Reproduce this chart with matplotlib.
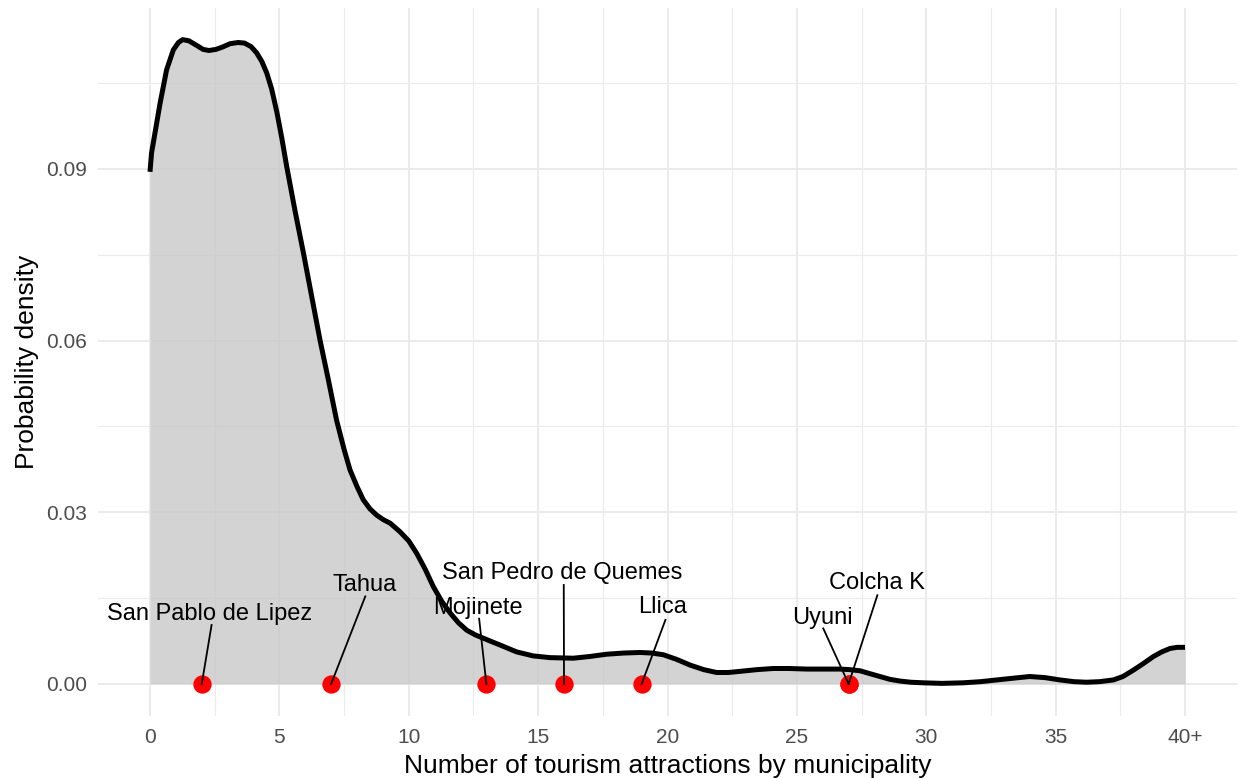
import matplotlib
matplotlib.use("Agg")
import matplotlib.pyplot as plt
from matplotlib.ticker import MultipleLocator, FixedLocator

plt.rcParams['font.family'] = ['Liberation Sans', 'DejaVu Sans']

# Density curve
dens_x = [0, 0.06, 0.39, 0.64, 0.9, 1.1, 1.26, 1.5, 1.8, 2.05, 2.28, 2.55, 2.8, 3.1, 3.41, 3.65,
          3.9, 4.12, 4.32, 4.51, 4.7, 4.9, 5.09, 5.28, 5.6, 5.93, 6.25, 6.57, 6.9,
          7.21, 7.5, 7.73, 8.0, 8.24, 8.5, 8.76, 9.02, 9.28, 9.66, 10.0, 10.31, 10.63, 10.95, 11.28,
          11.6, 11.92, 12.24, 12.56, 12.88, 13.2, 13.53, 14.17, 14.81, 15.46, 16.36, 17.0, 17.65,
          18.3, 18.94, 19.4, 19.84, 20.35, 20.87, 21.4, 21.9, 22.35, 22.8, 23.45, 24.09, 24.7,
          25.38, 26.0, 26.67, 27.05, 27.44, 27.82, 28.21, 28.6, 28.99, 29.4, 29.89, 30.6, 31.43,
          32.1, 32.72, 33.35, 34.0, 34.6, 35.17, 35.7, 36.2, 36.7, 37.23, 37.6, 38.0, 38.4, 38.78,
          39.1, 39.42, 39.7, 40]
dens_y = [0.0895, 0.0928, 0.1015, 0.1073, 0.1108, 0.1121, 0.1126, 0.1124, 0.1116, 0.1109,
          0.1107, 0.1109, 0.1113, 0.1119, 0.1121, 0.1120, 0.1114, 0.1103, 0.1088, 0.1068,
          0.1040, 0.1000, 0.0955, 0.0905, 0.0828, 0.0753, 0.0677, 0.0601, 0.0530,
          0.0461, 0.0410, 0.0374, 0.0345, 0.0322, 0.0306, 0.0295, 0.0287, 0.0281, 0.0266,
          0.0250, 0.0228, 0.0201, 0.0170, 0.0144, 0.0124, 0.0107, 0.0094, 0.0086, 0.0080,
          0.0074, 0.0068, 0.0056, 0.0049, 0.0046, 0.0045, 0.0048, 0.0052, 0.0054, 0.0055,
          0.0054, 0.0051, 0.0043, 0.0033, 0.0025, 0.0020, 0.0020, 0.0022, 0.0025, 0.0027,
          0.0027, 0.0026, 0.0026, 0.0026, 0.0025, 0.0023, 0.0018, 0.0013, 0.0008, 0.0005,
          0.0003, 0.0002, 0.0001, 0.0002, 0.0004, 0.0007, 0.0010, 0.0013, 0.0011, 0.0007,
          0.0004, 0.0003, 0.0004, 0.0007, 0.0013, 0.0024, 0.0036, 0.0048, 0.0056, 0.0062,
          0.0064, 0.0064]

# Highlighted municipalities
muni_names = ['San Pablo de Lipez', 'Tahua', 'Mojinete', 'San Pedro de Quemes',
              'Llica', 'Uyuni', 'Colcha K']
muni_x = [2, 7, 13, 16, 19, 27, 27]

# Label layout (text position, segment end) in data units
label_pos = [(2.32, 0.0122), (8.30, 0.0173), (12.68, 0.0133), (15.94, 0.0194),
             (19.79, 0.0135), (25.98, 0.0115), (28.10, 0.0176)]
seg_end = [(2.38, 0.0103), (8.32, 0.0153), (12.72, 0.0114), (15.99, 0.0173),
           (19.92, 0.0112), (26.02, 0.0097), (28.11, 0.0155)]

x_ticks = [0, 5, 10, 15, 20, 25, 30, 35, 40]
x_ticklabels = ['0', '5', '10', '15', '20', '25', '30', '35', '40+']
y_ticks = [0.00, 0.03, 0.06, 0.09]
y_ticklabels = ['0.00', '0.03', '0.06', '0.09']

fig = plt.figure(figsize=(12.39, 7.78), dpi=100)
ax = fig.add_axes([0.0793, 0.0797, 0.9189, 0.9098])

ax.set_xlim(-2, 42)
ax.set_ylim(-0.0056, 0.1181)

ax.xaxis.set_major_locator(FixedLocator(x_ticks))
ax.set_xticklabels(x_ticklabels)
ax.xaxis.set_minor_locator(MultipleLocator(2.5))
ax.yaxis.set_major_locator(FixedLocator(y_ticks))
ax.set_yticklabels(y_ticklabels)
ax.yaxis.set_minor_locator(MultipleLocator(0.015))

ax.grid(which='major', color='#EBEBEB', linewidth=1.4)
ax.grid(which='minor', color='#EBEBEB', linewidth=0.8)
ax.set_axisbelow(True)
for s in ax.spines.values():
    s.set_visible(False)
ax.tick_params(which='both', length=0)
ax.tick_params(axis='x', pad=9, labelsize=15, labelcolor='#4D4D4D')
ax.tick_params(axis='y', pad=8, labelsize=15, labelcolor='#4D4D4D')

ax.fill_between(dens_x, dens_y, 0, color='#C8C8C8', alpha=0.8, linewidth=0, zorder=1)
ax.plot(dens_x, dens_y, color='black', linewidth=3.6, solid_capstyle='butt',
        solid_joinstyle='round', zorder=2)

ax.plot(muni_x, [0] * len(muni_x), linestyle='none', marker='o', markersize=13.2,
        color='red', markeredgewidth=0, zorder=3, clip_on=False)

for name, x0, (tx, ty), (sx, sy) in zip(muni_names, muni_x, label_pos, seg_end):
    ax.plot([x0, sx], [0, sy], color='black', linewidth=1.3, zorder=4)
    ax.text(tx, ty, name, fontsize=17, ha='center', va='center', color='black', zorder=5)

ax.set_xlabel('Number of tourism attractions by municipality', fontsize=19, labelpad=4.5)
ax.set_ylabel('Probability density', fontsize=19, labelpad=5.5)

fig.savefig('out.png', dpi=100)
